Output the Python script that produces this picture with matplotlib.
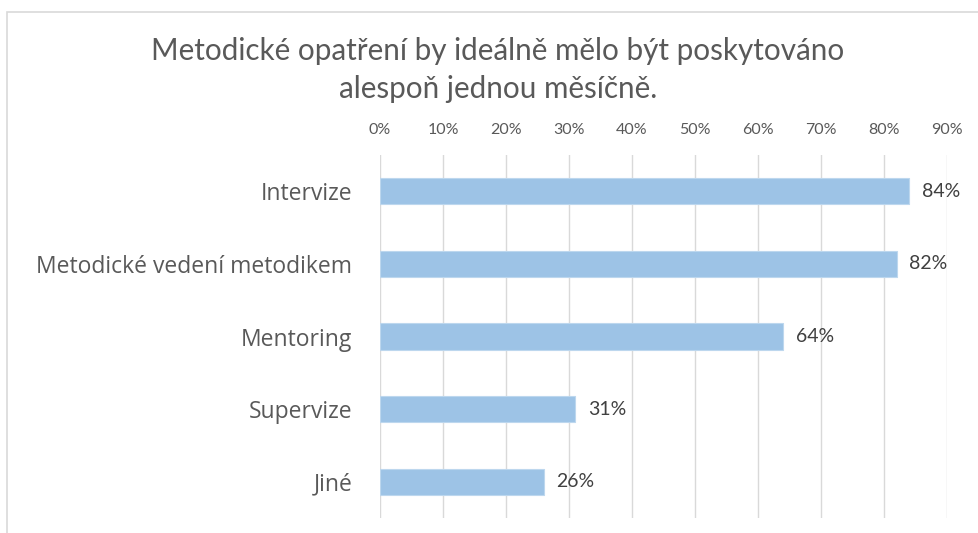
import matplotlib.pyplot as plt
from matplotlib.patches import Rectangle
from matplotlib.ticker import MultipleLocator, FuncFormatter

# data
categories = ["Intervize", "Metodické vedení metodikem", "Mentoring", "Supervize", "Jiné"]
values = [84, 82, 64, 31, 26]
title = "Metodické opatření by ideálně mělo být poskytováno\nalespoň jednou měsíčně."

plt.rcParams['font.family'] = ['Lato', 'DejaVu Sans']
text_color = "#595959"
bar_color = "#9DC3E6"
grid_color = "#D9D9D9"

W, H = 979, 533
fig = plt.figure(figsize=(W / 100, H / 100), dpi=100)

# axes placed in pixel terms: 0% at x=380, 90% at x=947, top y=155, bottom y=518
left, right, top, bottom = 380, 947, 155, 518
ax = fig.add_axes([left / W, 1 - bottom / H, (right - left) / W, (bottom - top) / H])

y = list(range(len(categories)))
ax.barh(y, values, height=0.36, color=bar_color, edgecolor="#BDD7EE", linewidth=0.8, zorder=3)
ax.set_yticks(y)
ax.set_yticklabels(categories, family=['Open Sans', 'DejaVu Sans'])
ax.set_ylim(len(categories) - 0.5, -0.5)
ax.set_xlim(0, 90)

ax.xaxis.set_major_locator(MultipleLocator(10))
ax.xaxis.set_major_formatter(FuncFormatter(lambda v, p: f"{v:.0f}%"))
ax.xaxis.tick_top()
ax.tick_params(axis="x", length=0, pad=13, labelsize=11.5, labelcolor=text_color)
ax.tick_params(axis="y", length=0, pad=20, labelsize=16.5, labelcolor=text_color)
ax.grid(axis="x", color=grid_color, linewidth=1, zorder=0)
for s in ax.spines.values():
    s.set_visible(False)

for yi, v in zip(y, values):
    ax.text(v + 2, yi, f"{v}%", va="center", ha="left", fontsize=14, color="#404040")

fig.text(498 / W, 1 - 70 / H, title, ha="center", va="center", fontsize=21.3,
         color=text_color, linespacing=1.4)

# chart frame
fig.patches.append(Rectangle((7 / W, -0.1), 1.2, 1 - 12 / H + 0.1, transform=fig.transFigure,
                             fill=False, edgecolor="#D9D9D9", linewidth=1.2))

fig.savefig("out.png", dpi=100)
